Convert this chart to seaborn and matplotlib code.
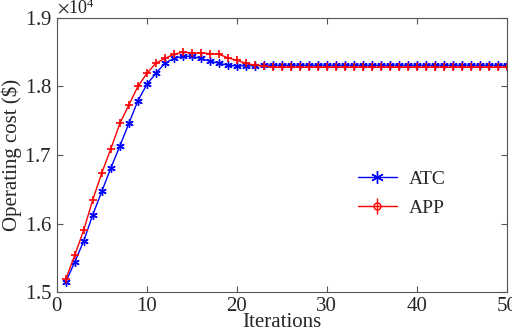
import numpy as np
import pandas as pd
import matplotlib
matplotlib.use("Agg")
import matplotlib.pyplot as plt
import seaborn as sns
from matplotlib.lines import Line2D
from matplotlib.legend_handler import HandlerTuple

# iteration index
iters = list(range(1, 51))

# operating cost (x 1e4 $)
atc = [1.515, 1.544, 1.575, 1.613, 1.647, 1.681, 1.713, 1.746, 1.779, 1.803,
       1.819, 1.834, 1.841, 1.844, 1.844, 1.841, 1.837, 1.834, 1.831, 1.830,
       1.830, 1.830] + [1.831] * 28
app = [1.519, 1.554, 1.591, 1.635, 1.674, 1.709, 1.746, 1.773, 1.800, 1.819,
       1.834, 1.841, 1.847, 1.850, 1.849, 1.849, 1.848, 1.847, 1.842, 1.838,
       1.834, 1.831, 1.830] + [1.828] * 27

df = pd.DataFrame({
    "Iterations": iters * 2,
    "cost": np.array(atc + app) * 1e4,
    "method": ["ATC"] * 50 + ["APP"] * 50,
})

sns.set_style("ticks")
plt.rcParams["font.family"] = ["Liberation Serif", "DejaVu Serif"]
plt.rcParams["mathtext.fontset"] = "stix"

fig = plt.figure(figsize=(5.12, 3.33), dpi=100)
ax = fig.add_axes([0.111, 0.123, 0.879, 0.823])

sns.lineplot(data=df[df.method == "ATC"], x="Iterations", y="cost", color="blue",
             marker=(6, 2, 0), markersize=6, markeredgewidth=1.0, linewidth=1.0,
             markeredgecolor="blue", ax=ax, legend=False)
sns.lineplot(data=df[df.method == "APP"], x="Iterations", y="cost", color="red",
             marker="+", markersize=6, markeredgewidth=1.2, linewidth=1.0,
             markeredgecolor="red", ax=ax, legend=False)

ax.set_xlim(0, 50)
ax.set_ylim(15000, 19000)
ax.set_xticks([0, 10, 20, 30, 40, 50])
ax.set_yticks([15000, 16000, 17000, 18000, 19000])
ax.ticklabel_format(axis="y", style="sci", scilimits=(0, 0), useMathText=True)
ax.yaxis.get_offset_text().set_fontsize(13)
ax.tick_params(direction="in", top=True, right=True, labelsize=15, length=4,
               color="#555555")
for s in ax.spines.values():
    s.set_color("#555555")
    s.set_linewidth(0.8)

ax.set_xlabel("Iterations", fontsize=15, labelpad=-2)
ax.set_ylabel("Operating cost (\\$)", fontsize=15, labelpad=2)

h_atc = Line2D([], [], color="blue", marker=(6, 2, 0), markersize=9, linewidth=1.0)
h_app_l = Line2D([], [], color="red", marker="o", markersize=5, markerfacecolor="none",
                 linewidth=1.0)
h_app_p = Line2D([], [], color="red", marker="|", markersize=11, linewidth=0)
ax.legend([h_atc, (h_app_l, h_app_p)], ["ATC", "APP"],
          handler_map={tuple: HandlerTuple(ndivide=1)},
          loc="center left", bbox_to_anchor=(0.63, 0.36), frameon=False,
          fontsize=14, handlelength=2.0, handletextpad=0.6, labelspacing=0.6)

fig.savefig("out.png", dpi=100)
